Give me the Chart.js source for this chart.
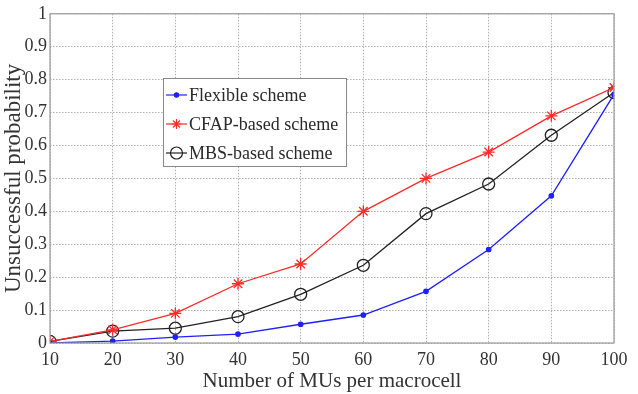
<!DOCTYPE html>
<html>
<head>
<meta charset="utf-8">
<script src="https://cdn.jsdelivr.net/npm/chart.js@4/dist/chart.umd.min.js"></script>
<style>
  html, body { margin: 0; padding: 0; background: #fff; }
  #wrap { width: 638px; height: 394px; }
</style>
</head>
<body>
<div id="wrap"><canvas id="chart"></canvas></div>
<script>
//number of MUs per macrocell
const users = [10, 20, 30, 40, 50, 60, 70, 80, 90, 100];
//unsuccessful probability of each scheme
const flexible = [0.0, 0.006, 0.018, 0.027, 0.057, 0.085, 0.157, 0.284, 0.447, 0.755];
const cfap = [0.005, 0.04, 0.09, 0.18, 0.24, 0.40, 0.50, 0.58, 0.69, 0.776];
const mbs = [0.005, 0.036, 0.045, 0.08, 0.148, 0.236, 0.393, 0.483, 0.631, 0.761];
const seriesNames = ["Flexible scheme", "CFAP-based scheme", "MBS-based scheme"];

const serif = "'Liberation Serif', 'DejaVu Serif', serif";

const toPoints = (vals) => vals.map((v, i) => ({ x: users[i], y: v }));

//box around the plot area
const frame = {
  id: "frame",
  afterDraw(chart) {
    const { ctx, chartArea: a } = chart;
    ctx.save();
    ctx.strokeStyle = "#9a9a9a";
    ctx.lineWidth = 1.2;
    ctx.strokeRect(a.left, a.top, a.right - a.left, a.bottom - a.top);
    ctx.restore();
  },
};

//legend box drawn inside the plot, like the matlab one
const boxLegend = {
  id: "boxLegend",
  afterDraw(chart) {
    const { ctx } = chart;
    const x = 163, y = 78, w = 183, h = 88;
    ctx.save();
    ctx.fillStyle = "#fff";
    ctx.fillRect(x, y, w, h);
    ctx.strokeStyle = "#888";
    ctx.lineWidth = 1;
    ctx.strokeRect(x + 0.5, y + 0.5, w, h);
    ctx.font = "18px " + serif;
    ctx.textBaseline = "middle";
    chart.data.datasets.forEach((ds, i) => {
      const cy = y + 17 + i * 29;
      ctx.strokeStyle = ds.borderColor;
      ctx.lineWidth = 1.2;
      ctx.beginPath();
      ctx.moveTo(x + 3, cy);
      ctx.lineTo(x + 24, cy);
      ctx.stroke();
      const mx = x + 13.5;
      if (ds.pointStyle === "star") {
        ctx.beginPath();
        for (let k = 0; k < 4; k++) {
          const ang = k * Math.PI / 4;
          ctx.moveTo(mx - 5 * Math.cos(ang), cy - 5 * Math.sin(ang));
          ctx.lineTo(mx + 5 * Math.cos(ang), cy + 5 * Math.sin(ang));
        }
        ctx.stroke();
      } else {
        ctx.beginPath();
        ctx.arc(mx, cy, ds.pointRadius, 0, Math.PI * 2);
        if (ds.pointBackgroundColor !== "transparent") {
          ctx.fillStyle = ds.pointBackgroundColor;
          ctx.fill();
        }
        ctx.stroke();
      }
      ctx.fillStyle = "#2a2a2a";
      ctx.fillText(ds.label, x + 26, cy + 1);
    });
    ctx.restore();
  },
};

new Chart(document.getElementById("chart"), {
  type: "line",
  plugins: [frame, boxLegend],
  data: {
    datasets: [
      {
        label: seriesNames[0],
        data: toPoints(flexible),
        borderColor: "#2020ff",
        backgroundColor: "#2020ff",
        pointBackgroundColor: "#2020ff",
        pointStyle: "circle",
        pointRadius: 2.2,
        borderWidth: 1.3,
      },
      {
        label: seriesNames[1],
        data: toPoints(cfap),
        borderColor: "#ff2a2a",
        backgroundColor: "#ff2a2a",
        pointBackgroundColor: "#ff2a2a",
        pointStyle: "star",
        pointRadius: 6,
        borderWidth: 1.3,
      },
      {
        label: seriesNames[2],
        data: toPoints(mbs),
        borderColor: "#222",
        backgroundColor: "transparent",
        pointBackgroundColor: "transparent",
        pointStyle: "circle",
        pointRadius: 6,
        borderWidth: 1.3,
      },
    ],
  },
  options: {
    responsive: true,
    maintainAspectRatio: false,
    animation: false,
    layout: { padding: { top: 12, right: 24, left: 0, bottom: 0 } },
    plugins: {
      legend: { display: false },
      tooltip: false,
    },
    scales: {
      x: {
        type: "linear",
        min: 10,
        max: 100,
        afterFit: (s) => { s.height = 51; },
        ticks: {
          stepSize: 10,
          color: "#333",
          padding: 6,
          font: { family: serif, size: 18 },
        },
        grid: { color: "#b0b0b0", lineWidth: 1, drawTicks: false },
        border: { display: false, dash: [1.5, 1.5] },
        title: {
          display: true,
          text: "Number of MUs per macrocell",
          color: "#333",
          padding: { top: 0, bottom: 0 },
          font: { family: serif, size: 21 },
        },
      },
      y: {
        min: 0,
        max: 1,
        afterFit: (s) => { s.width = 50; },
        ticks: {
          stepSize: 0.1,
          color: "#333",
          padding: 3,
          font: { family: serif, size: 18 },
          callback: (v) => Math.round(v * 10) / 10,
        },
        grid: { color: "#b0b0b0", lineWidth: 1, drawTicks: false },
        border: { display: false, dash: [1.5, 1.5] },
        title: {
          display: true,
          text: "Unsuccessful probability",
          color: "#333",
          padding: { top: 0, bottom: 0 },
          font: { family: serif, size: 23 },
        },
      },
    },
  },
});
</script>
</body>
</html>
